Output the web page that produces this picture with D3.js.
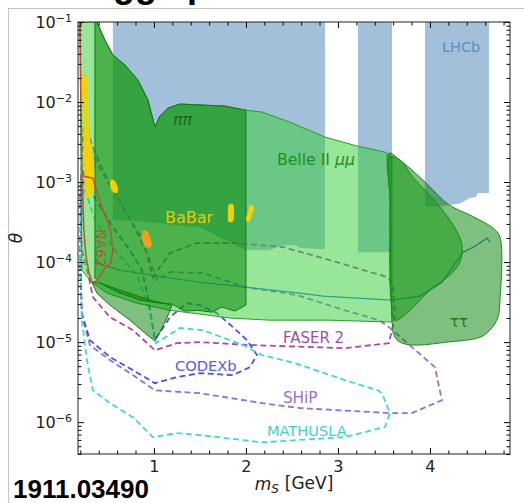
<!DOCTYPE html>
<html>
<head>
<meta charset="utf-8">
<script src="https://cdn.jsdelivr.net/npm/d3@7"></script>
<style>
  body { margin: 0; background: #fff; }
  svg { display: block; }
  text { font-family: "DejaVu Sans", sans-serif; }
</style>
</head>
<body>
<svg id="chart" width="524" height="503"></svg>
<script>
// ---- data: [m_S in GeV, theta] ----
var xTicks = [1, 2, 3, 4];
var yTicks = [1e-6, 1e-5, 1e-4, 1e-3, 1e-2, 1e-1];

var lhcbBand1 = [[0.554, 0.1], [2.859, 0.1], [2.859, 1.45e-4], [2.59, 1.5e-4], [2.53, 1.63e-4], [2.37, 1.6e-4],
  [2.26, 1.41e-4], [2.0, 1.41e-4], [1.5, 2.7e-4], [0.9, 3.2e-4], [0.554, 3.35e-4]];
var lhcbBand2 = [[3.217, 0.1], [3.587, 0.1], [3.587, 1.33e-4], [3.217, 1.33e-4]];
var lhcbBand3 = [[3.946, 0.1], [4.641, 0.1], [4.641, 7.3e-4], [4.52, 7.3e-4], [4.5, 6.5e-4], [4.435, 6.3e-4],
  [4.326, 5.4e-4], [4.11, 5.0e-4], [3.946, 4.9e-4]];

var belleMuMu = [[0.196, 0.1], [0.38, 0.1], [0.467, 5.96e-2], [0.554, 3.87e-2], [0.685, 2.9e-2], [0.826, 1.88e-2],
  [0.935, 1.06e-2], [1.011, 4.87e-3], [1.065, 6.68e-3], [1.152, 8.4e-3], [1.283, 9.44e-3], [1.5, 9.2e-3],
  [1.772, 8.9e-3], [2.0, 7.9e-3], [2.174, 7.5e-3], [2.478, 5.6e-3], [2.859, 3.65e-3], [3.217, 2.8e-3],
  [3.511, 2.37e-3], [3.587, 2.05e-3], [3.587, 1.78e-5], [2.913, 1.88e-5], [2.261, 1.88e-5], [1.826, 2.0e-5],
  [1.5, 2.24e-5], [1.174, 2.5e-5], [0.815, 3.07e-5], [0.489, 4.1e-5], [0.326, 5.6e-5], [0.217, 7.9e-5]];

var bellePiPi = [[0.359, 0.1], [0.38, 0.1], [0.467, 5.96e-2], [0.554, 3.87e-2], [0.685, 2.9e-2], [0.826, 1.88e-2],
  [0.935, 1.06e-2], [1.011, 4.87e-3], [1.065, 6.68e-3], [1.152, 8.4e-3], [1.283, 9.44e-3], [1.5, 9.2e-3],
  [1.772, 8.9e-3], [2.0, 7.9e-3], [2.0, 2.9e-5], [1.88, 2.44e-5], [1.739, 2.74e-5], [1.63, 2.37e-5],
  [1.478, 2.5e-5], [1.337, 2.44e-5], [1.196, 2.99e-5], [1.065, 3.07e-5], [0.848, 3.35e-5], [0.609, 4.2e-5],
  [0.413, 5.46e-5], [0.359, 6.3e-5]];

var belleDip = [[0.326, 5.6e-5], [0.38, 4.1e-5], [0.522, 2.9e-5], [0.739, 1.88e-5], [0.902, 1.3e-5], [1.011, 1.03e-5],
  [1.065, 1.33e-5], [1.141, 2.0e-5], [1.196, 2.9e-5], [0.957, 3.35e-5], [0.63, 4.47e-5], [0.413, 5.46e-5]];

var belleTauTau = [[3.554, 2.3e-3], [3.674, 1.88e-3], [3.924, 1.06e-3], [4.207, 5.2e-4], [4.435, 3.87e-4],
  [4.685, 2.66e-4], [4.761, 2.05e-4], [4.761, 3.35e-5], [4.739, 2.05e-5], [4.652, 1.41e-5], [4.543, 1.15e-5],
  [4.185, 1.0e-5], [3.815, 9.2e-6], [3.674, 1.0e-5], [3.609, 1.22e-5], [3.587, 2.05e-5], [3.565, 5.96e-4]];

var belleHighMass = [[3.565, 2.05e-3], [3.674, 1.88e-3], [3.815, 1.15e-3], [4.109, 4.87e-4], [4.272, 2.66e-4],
  [4.348, 1.63e-4], [4.326, 1.0e-4], [4.217, 6.9e-5], [4.0, 4.47e-5], [3.75, 2.3e-5], [3.62, 1.88e-5],
  [3.576, 3.35e-5], [3.565, 5.96e-4]];

var solidCurve = [[0.359, 1.0e-4], [0.63, 7.9e-5], [1.033, 6.7e-5], [1.5, 5.6e-5], [1.989, 4.87e-5], [2.587, 4.1e-5],
  [2.837, 3.76e-5], [3.207, 3.55e-5], [3.587, 3.35e-5], [3.891, 3.76e-5], [4.13, 5.6e-5], [4.359, 1.33e-4],
  [4.489, 1.58e-4], [4.62, 2.0e-4], [4.652, 1.78e-4]];

var faser2 = [[0.239, 5.96e-3], [0.326, 2.9e-3], [0.446, 1.41e-3], [0.663, 4.87e-4], [0.88, 1.88e-4], [0.989, 6.5e-5],
  [1.174, 1.3e-4], [1.467, 1.73e-4], [1.902, 1.73e-4], [2.402, 1.54e-4], [2.913, 1.06e-4], [3.533, 6.5e-5],
  [3.598, 5.46e-5], [3.62, 2.05e-5], [3.587, 1.41e-5], [3.554, 9.7e-6], [3.076, 8.4e-6], [2.043, 9.2e-6],
  [1.5, 1.0e-5], [1.25, 9.7e-6], [1.011, 7.9e-6], [0.772, 1.41e-5], [0.522, 2.05e-5], [0.337, 3.65e-5],
  [0.283, 7.3e-5], [0.217, 1.41e-4], [0.196, 5.96e-4]];

var ship = [[0.261, 3.35e-3], [0.391, 1.63e-3], [0.554, 7.9e-4], [0.772, 2.9e-4], [0.935, 1.22e-4], [1.033, 5.96e-5],
  [1.174, 7.5e-5], [1.533, 7.3e-5], [1.989, 4.87e-5], [2.554, 3.87e-5], [3.076, 2.5e-5], [3.446, 1.88e-5],
  [3.554, 1.54e-5], [4.054, 4.87e-6], [4.13, 1.88e-6], [3.804, 1.3e-6], [3.554, 1.3e-6], [2.587, 1.5e-6],
  [2.174, 1.73e-6], [1.5, 2.3e-6], [1.011, 2.5e-6], [0.772, 3.87e-6], [0.522, 5.96e-6], [0.304, 9.2e-6],
  [0.217, 2.18e-5], [0.196, 1.41e-4]];

var codexb = [[0.217, 1.41e-3], [0.304, 7.9e-4], [0.554, 2.74e-4], [0.739, 1.41e-4], [0.87, 7.9e-5], [0.935, 3.65e-5],
  [1.011, 1.06e-5], [1.174, 2.05e-5], [1.359, 3.07e-5], [1.5, 2.9e-5], [1.685, 2.3e-5], [1.859, 1.54e-5],
  [2.011, 1.06e-5], [2.12, 6.9e-6], [2.043, 4.87e-6], [1.859, 3.87e-6], [1.5, 4.1e-6], [1.25, 3.65e-6],
  [1.011, 3.07e-6], [0.772, 4.47e-6], [0.522, 6.5e-6], [0.304, 1.06e-5], [0.217, 2.3e-5], [0.196, 1.41e-4]];

var mathusla = [[0.217, 1.06e-3], [0.359, 3.35e-4], [0.576, 1.41e-4], [0.815, 6.9e-5], [0.957, 2.5e-5], [1.022, 9.7e-6],
  [1.283, 1.5e-5], [1.533, 1.41e-5], [1.967, 9.2e-6], [2.174, 6.9e-6], [2.533, 5.46e-6], [3.076, 3.35e-6],
  [3.435, 2.5e-6], [3.478, 2.3e-6], [3.565, 1.3e-6], [3.511, 8.7e-7], [3.076, 6.5e-7], [2.174, 5.6e-7],
  [1.5, 6.9e-7], [1.25, 7.3e-7], [0.989, 6.5e-7], [0.772, 1.15e-6], [0.522, 1.73e-6], [0.337, 2.5e-6],
  [0.272, 5.96e-6], [0.217, 1.88e-5], [0.196, 1.06e-4]];

var babarStrip = [[0.228, 2.18e-2], [0.261, 2.18e-2], [0.283, 1.06e-2], [0.293, 4.47e-3], [0.326, 2.5e-3],
  [0.348, 1.63e-3], [0.348, 9.2e-4], [0.304, 6.5e-4], [0.272, 6.5e-4], [0.25, 9.2e-4], [0.239, 2.5e-3], [0.228, 7.9e-3]];
var babarBlob1 = [[0.533, 1.06e-3], [0.576, 1.03e-3], [0.609, 8.2e-4], [0.598, 7.3e-4], [0.554, 7.5e-4], [0.522, 9.2e-4]];
var babarBlob2 = [[1.815, 5.2e-4], [1.859, 5.3e-4], [1.87, 4.2e-4], [1.859, 3.25e-4], [1.815, 3.16e-4], [1.804, 4.2e-4]];
var babarBlob3 = [[2.043, 5.2e-4], [2.087, 4.87e-4], [2.065, 3.87e-4], [2.033, 3.16e-4], [2.0, 3.35e-4], [2.022, 4.2e-4]];
var babarOrange = [[0.891, 2.5e-4], [0.935, 2.37e-4], [0.967, 1.88e-4], [0.978, 1.63e-4], [0.946, 1.5e-4], [0.902, 1.58e-4], [0.87, 2.0e-4]];

var na62 = [[0.196, 0.1], [0.207, 1.06e-2], [0.217, 1.19e-3], [0.337, 1.12e-3], [0.38, 7.5e-4], [0.435, 4.87e-4],
  [0.489, 3.35e-4], [0.533, 2.37e-4], [0.554, 1.41e-4], [0.533, 9.7e-5], [0.467, 8.4e-5], [0.424, 7.1e-5],
  [0.38, 5.8e-5], [0.326, 5.6e-5], [0.293, 7.5e-5], [0.261, 1.22e-4], [0.239, 2.5e-4], [0.228, 5.96e-4], [0.217, 1.19e-3]];

// ---- chart ----
var svg = d3.select("#chart"),
    margin = {top: 22, right: 14, bottom: 49, left: 78},
    width = +svg.attr("width") - margin.left - margin.right,
    height = +svg.attr("height") - margin.top - margin.bottom;

// slide frame and cut-off title
svg.append("rect").attr("x", 8.5).attr("y", 8.5).attr("width", 530).attr("height", 510)
    .attr("fill", "none").attr("stroke", "#c4c4c4");
svg.append("text").attr("x", 77).attr("y", -3.5)
    .style("font-family", "'Liberation Sans', Arial, sans-serif").attr("font-weight", "bold").attr("font-size", 36)
    .text("Higgs portal");

var g = svg.append("g").attr("transform", "translate(" + margin.left + "," + margin.top + ")");

var x = d3.scaleLinear().domain([0.175, 4.87]).range([0, width]);
var y = d3.scaleLog().domain([4e-7, 0.1]).range([height, 0]);

svg.append("defs").append("clipPath").attr("id", "plotclip")
  .append("rect").attr("width", width).attr("height", height);

var plot = g.append("g").attr("clip-path", "url(#plotclip)");

var areaPath = d3.line().x(function(d) { return x(d[0]); }).y(function(d) { return y(d[1]); }).curve(d3.curveLinearClosed);
var roundPath = d3.line().x(function(d) { return x(d[0]); }).y(function(d) { return y(d[1]); }).curve(d3.curveCatmullRomClosed.alpha(0.5));
var linePath = d3.line().x(function(d) { return x(d[0]); }).y(function(d) { return y(d[1]); });

// LHCb
[lhcbBand1, lhcbBand2, lhcbBand3].forEach(function(b) {
  plot.append("path").datum(b).attr("d", areaPath).attr("fill", "steelblue").attr("fill-opacity", 0.5);
});

// projected sensitivities (drawn under the filled regions)
var dashed = [
  {data: faser2, color: "#a64ca6"},
  {data: ship, color: "mediumpurple"},
  {data: codexb, color: "#4f4ff0"},
  {data: mathusla, color: "#40d8d0"}
];
dashed.forEach(function(s) {
  plot.append("path").datum(s.data).attr("d", areaPath)
      .attr("fill", "none").attr("stroke", s.color).attr("stroke-width", 1.8)
      .attr("stroke-dasharray", "6,3.5");
});
plot.append("path").datum(solidCurve).attr("d", linePath)
    .attr("fill", "none").attr("stroke", "royalblue").attr("stroke-width", 1.2);

// Belle II regions
plot.append("path").datum(belleMuMu).attr("d", areaPath)
    .attr("fill", "limegreen").attr("fill-opacity", 0.5).attr("stroke", "#2a9d2a").attr("stroke-width", 1);
plot.append("path").datum(bellePiPi).attr("d", areaPath)
    .attr("fill", "green").attr("fill-opacity", 0.5).attr("stroke", "#137a13").attr("stroke-width", 1);
plot.append("path").datum(belleDip).attr("d", areaPath)
    .attr("fill", "green").attr("fill-opacity", 0.5).attr("stroke", "#137a13").attr("stroke-width", 1);
plot.append("path").datum(belleTauTau).attr("d", roundPath)
    .attr("fill", "green").attr("fill-opacity", 0.5).attr("stroke", "#1a8a1a").attr("stroke-width", 1);
plot.append("path").datum(belleHighMass).attr("d", roundPath)
    .attr("fill", "#1a9a1a").attr("fill-opacity", 0.55).attr("stroke", "#1a8a1a").attr("stroke-width", 1);

// BaBar
[babarStrip, babarBlob1, babarBlob2, babarBlob3].forEach(function(b) {
  plot.append("path").datum(b).attr("d", roundPath).attr("fill", "#f2d200");
});
plot.append("path").datum(babarOrange).attr("d", roundPath).attr("fill", "#f0a01c");

// NA62
plot.append("path").datum(na62).attr("d", linePath)
    .attr("fill", "none").attr("stroke", "#b0583a").attr("stroke-width", 1.5);

// labels
function label(m, t, txt, color, size) {
  return plot.append("text").attr("x", x(m)).attr("y", y(t))
      .attr("fill", color).attr("font-size", size).text(txt);
}
label(4.13, 4.2e-2, "LHCb", "#5a8fc2", 14.5);
label(1.207, 5.2e-3, "ππ", "#1a6b1a", 16).attr("font-style", "italic");
var belle = label(2.337, 1.63e-3, "Belle II ", "#1f8f1f", 15.7);
belle.append("tspan").attr("font-style", "italic").text("μμ");
label(4.217, 1.54e-5, "ττ", "#1f7a1f", 15);
label(1.12, 3.07e-4, "BaBar", "#e8c800", 16);
label(2.402, 9.7e-6, "FASER 2", "#a64ca6", 15);
label(1.228, 4.34e-6, "CODEXb", "#5a5af0", 14.7);
label(2.402, 1.73e-6, "SHiP", "#9370db", 15.3);
label(2.228, 6.7e-7, "MATHUSLA", "#40d0c8", 14.6);
plot.append("text")
    .attr("transform", "translate(" + x(0.424) + "," + y(1.5e-4) + ") rotate(90)")
    .attr("text-anchor", "middle").attr("dy", "0.35em")
    .attr("fill", "#b0583a").attr("font-size", 14).text("NA62");

// axes
var xMinor = d3.range(0.2, 4.81, 0.2).filter(function(v) { return Math.abs(v - Math.round(v)) > 0.01; });
var yMinor = [];
for (var e = -7; e <= -2; e++) {
  for (var k = 2; k <= 9; k++) {
    var v = k * Math.pow(10, e);
    if (v >= 4e-7 && v <= 0.1) yMinor.push(v);
  }
}

g.append("g").attr("transform", "translate(0," + height + ")")
    .call(d3.axisBottom(x).tickValues(xTicks).tickFormat(d3.format("d")).tickSize(-6).tickSizeOuter(0).tickPadding(7))
    .call(function(a) { a.select(".domain").remove(); a.selectAll("text").attr("font-size", 16).attr("fill", "#222"); });
g.append("g").attr("transform", "translate(0," + height + ")")
    .call(d3.axisBottom(x).tickValues(xMinor).tickFormat("").tickSize(-3.5).tickSizeOuter(0))
    .select(".domain").remove();
g.append("g")
    .call(d3.axisTop(x).tickValues(xTicks).tickFormat("").tickSize(-6).tickSizeOuter(0))
    .select(".domain").remove();
g.append("g")
    .call(d3.axisTop(x).tickValues(xMinor).tickFormat("").tickSize(-3.5).tickSizeOuter(0))
    .select(".domain").remove();

g.append("g")
    .call(d3.axisLeft(y).tickValues(yTicks).tickSize(-6).tickSizeOuter(0).tickPadding(6))
    .call(function(a) {
      a.select(".domain").remove();
      a.selectAll("text").attr("font-size", 16).attr("fill", "#222").each(function(d) {
        var t = d3.select(this), ex = Math.round(Math.log10(d));
        t.text(null);
        t.append("tspan").text("10");
        t.append("tspan").attr("dy", "-0.55em").attr("font-size", 11).text("−" + Math.abs(ex));
      });
    });
g.append("g")
    .call(d3.axisLeft(y).tickValues(yMinor).tickFormat("").tickSize(-3.5).tickSizeOuter(0))
    .select(".domain").remove();
g.append("g").attr("transform", "translate(" + width + ",0)")
    .call(d3.axisRight(y).tickValues(yTicks).tickFormat("").tickSize(-6).tickSizeOuter(0))
    .select(".domain").remove();
g.append("g").attr("transform", "translate(" + width + ",0)")
    .call(d3.axisRight(y).tickValues(yMinor).tickFormat("").tickSize(-3.5).tickSizeOuter(0))
    .select(".domain").remove();

g.append("rect").attr("width", width).attr("height", height)
    .attr("fill", "none").attr("stroke", "#222").attr("stroke-width", 1);

// axis titles
var xl = svg.append("text").attr("x", margin.left + width / 2).attr("y", 490)
    .attr("text-anchor", "middle").attr("font-size", 17).attr("fill", "#222");
xl.append("tspan").attr("font-style", "italic").text("m");
xl.append("tspan").attr("font-style", "italic").attr("font-size", 12).attr("dy", "0.25em").text("S");
xl.append("tspan").attr("dy", "-0.25em").attr("dx", "0.35em").text("[GeV]");

svg.append("text")
    .attr("transform", "translate(22," + (margin.top + height / 2) + ") rotate(-90)")
    .attr("text-anchor", "middle").attr("font-size", 17).attr("font-style", "italic").attr("fill", "#222")
    .text("θ");

svg.append("text").attr("x", 13).attr("y", 498)
    .style("font-family", "'Liberation Sans', Arial, sans-serif").attr("font-weight", "bold").attr("font-size", 26)
    .text("1911.03490");
</script>
</body>
</html>
